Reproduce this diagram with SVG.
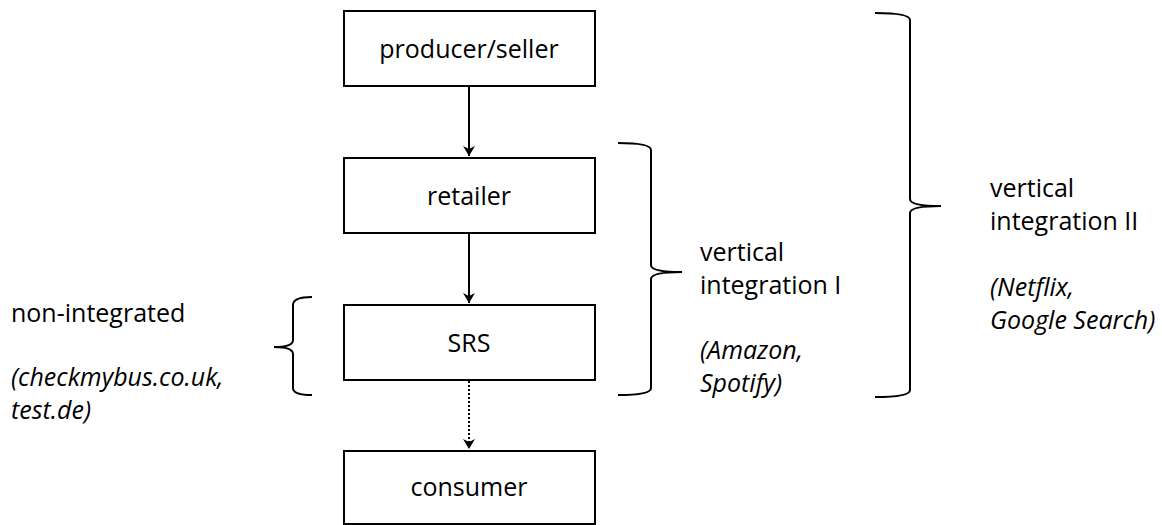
<svg xmlns="http://www.w3.org/2000/svg" width="1162" height="525" viewBox="0 0 1162 525">
<style>
.box{fill:#fff;stroke:#000;stroke-width:2}
.t{font-family:"Open Sans","Liberation Sans",sans-serif;font-size:25px;fill:#000}
.c{text-anchor:middle}
.i{font-style:italic;font-size:25px}
.br{fill:none;stroke:#000;stroke-width:2}
.ln{stroke:#000;stroke-width:2;fill:none}
</style>
<defs>
<marker id="ah" viewBox="0 0 12 12" refX="10" refY="6" markerWidth="12" markerHeight="12" markerUnits="userSpaceOnUse" orient="auto">
<path d="M0,0 L10,6 L0,12 L3,6 Z" fill="#000"/>
</marker>
</defs>
<rect width="1162" height="525" fill="#fff"/>
<g id="connectors">
<line class="ln" x1="469" y1="86" x2="469" y2="156" marker-end="url(#ah)"/>
<line class="ln" x1="469" y1="233" x2="469" y2="303" marker-end="url(#ah)"/>
<line class="ln" x1="469" y1="381" x2="469" y2="449" stroke-dasharray="2,2" marker-end="url(#ah)"/>
</g>
<g id="producer"><rect class="box" x="344" y="11" width="251" height="75"/><text class="t c" x="469" y="58">producer/seller</text></g>
<g id="retailer"><rect class="box" x="344" y="158" width="251" height="75"/><text class="t c" x="469" y="205">retailer</text></g>
<g id="srs"><rect class="box" x="344" y="305" width="251" height="75"/><text class="t c" x="469" y="352">SRS</text></g>
<g id="consumer"><rect class="box" x="344" y="451" width="251" height="73"/><text class="t c" x="469" y="496">consumer</text></g>
<g id="brace-non">
<path class="br" d="M312,297 Q293,297 293,305 L293,340 Q293,347 274,347 Q293,347 293,354 L293,388 Q293,395 312,395"/>
<text class="t" x="11" y="322">non-integrated</text>
<text class="t i" x="11" y="386">(checkmybus.co.uk,</text>
<text class="t i" x="11" y="419">test.de)</text>
</g>
<g id="brace-vi1">
<path class="br" d="M618,143 Q651,143 651,150 L651,265 Q651,272 682,272 Q651,272 651,279 L651,388 Q651,395 618,395"/>
<text class="t" x="700" y="261">vertical</text>
<text class="t" x="700" y="294">integration I</text>
<text class="t i" x="700" y="359">(Amazon,</text>
<text class="t i" x="700" y="392">Spotify)</text>
</g>
<g id="brace-vi2">
<path class="br" d="M875,13 Q910,13 910,20 L910,199 Q910,206 941,206 Q910,206 910,213 L910,390 Q910,397 875,397"/>
<text class="t" x="990" y="197">vertical</text>
<text class="t" x="990" y="230">integration II</text>
<text class="t i" x="990" y="296">(Netflix,</text>
<text class="t i" x="990" y="329">Google Search)</text>
</g>
</svg>
